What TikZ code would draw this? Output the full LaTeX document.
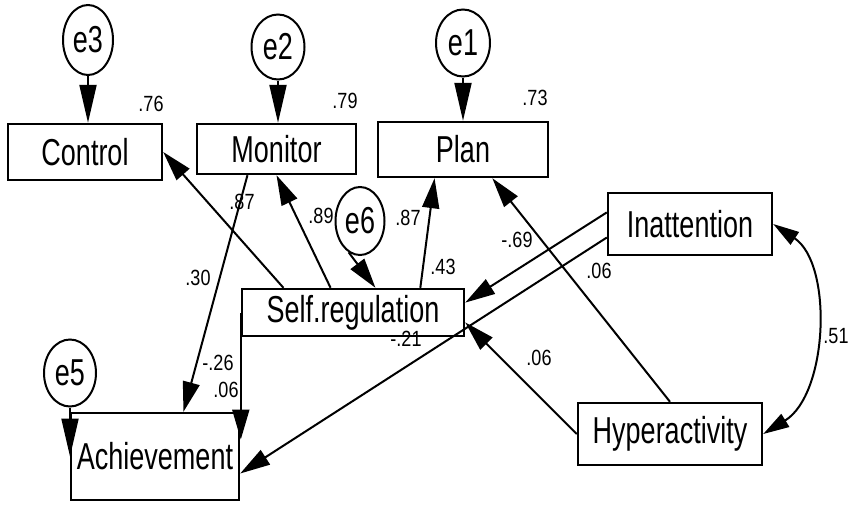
\documentclass[tikz,border=0pt]{standalone}
\usepackage{fontspec}
\usetikzlibrary{arrows.meta,shapes.geometric,calc}
\newfontfamily\boxfont[FakeStretch=0.72]{Liberation Sans}
\newfontfamily\labfont[FakeStretch=0.82]{Liberation Sans}
\begin{document}
\begin{tikzpicture}[x=1pt,y=-1pt,
  box/.style={draw, line width=2.4pt, inner sep=0pt, font=\boxfont\fontsize{37.5}{40}\selectfont},
  err/.style={ellipse, draw, line width=2pt, inner sep=0pt, font=\boxfont\fontsize{37.5}{40}\selectfont},
  lab/.style={inner sep=0pt, font=\labfont\fontsize{22}{24}\selectfont},
  conn/.style={line width=2pt, -{Triangle[length=30pt,width=17pt]}},
  errarr/.style={line width=2pt, -{Triangle[length=38pt,width=17pt]}},
  corr/.style={line width=2pt, {Triangle[length=26pt,width=15pt]}-{Triangle[length=26pt,width=15pt]}}
]
\useasboundingbox (0,0) rectangle (851,504);

% observed variables
\node[box, minimum width=154pt, minimum height=56pt] (ctrl) at (85,152) {Control};
\node[box, minimum width=159pt, minimum height=50pt] (mon) at (276.5,149) {Monitor};
\node[box, minimum width=170pt, minimum height=55pt] (plan) at (463,149.5) {Plan};
\node[box, minimum width=164pt, minimum height=62pt] (inat) at (690,224) {Inattention};
\node[box, minimum width=184pt, minimum height=62pt] (hyp) at (670,434) {Hyperactivity};
\node[box, minimum width=222pt, minimum height=47pt] (sr) at (353,312.5) {Self.regulation};
\node[box, minimum width=168pt, minimum height=87pt] (ach) at (155,456.5) {Achievement};

% error terms
\node[err, minimum width=50pt, minimum height=70pt] (e3) at (88,40) {e3};
\node[err, minimum width=53pt, minimum height=65pt] (e2) at (278,47) {e2};
\node[err, minimum width=54pt, minimum height=67pt] (e1) at (463,43) {e1};
\node[err, minimum width=49pt, minimum height=68pt] (e6) at (360,221) {e6};
\node[err, minimum width=52pt, minimum height=67pt] (e5) at (70,373) {e5};

% anchor points
\coordinate (srA) at ($(sr.north west)!0.19!(sr.north east)$);
\coordinate (srB) at ($(sr.north west)!0.40!(sr.north east)$);
\coordinate (srC) at ($(sr.north west)!0.60!(sr.north east)$);
\coordinate (srD) at ($(sr.north west)!0.80!(sr.north east)$);
\coordinate (srR1) at ($(sr.north east)!0.30!(sr.south east)$);
\coordinate (srR2) at ($(sr.north east)!0.70!(sr.south east)$);
\coordinate (planA) at ($(plan.south west)!0.335!(plan.south east)$);
\coordinate (planB) at ($(plan.south west)!0.67!(plan.south east)$);
\coordinate (monA) at ($(mon.south west)!0.32!(mon.south east)$);
\coordinate (achT) at ($(ach.north west)!0.667!(ach.north east)$);
\coordinate (achR1) at ($(ach.north east)!0.31!(ach.south east)$);
\coordinate (achR2) at ($(ach.north east)!0.69!(ach.south east)$);
\coordinate (inL1) at ($(inat.north west)!0.32!(inat.south west)$);
\coordinate (inL2) at ($(inat.north west)!0.71!(inat.south west)$);

% error arrows
\draw[errarr] (e3.south) -- (e3.south |- ctrl.north);
\draw[errarr] (e2.south) -- (e2.south |- mon.north);
\draw[errarr] (e1.south) -- (e1.south |- plan.north);
\draw[errarr] (e5.south) -- (e5.south |- ach.west);
\draw[conn] (e6.250) -- (srC);

% structural paths
\draw[conn] (srA) -- (ctrl.east);
\draw[conn] (srB) -- (mon.south);
\draw[conn] (srD) -- (planA);
\draw[conn] (monA) -- (achT);
\draw[conn] (hyp.north) -- (planB);
\draw[conn] (inL1) -- (srR1);
\draw[conn] (inL2) -- (achR2);
\draw[conn] (hyp.west) -- (srR2);
\draw[conn] (sr.west) -- (sr.west |- achR1);
\draw[corr] (inat.east) .. controls +(60,40) and +(65,-40) .. (hyp.east);

% coefficients
\node[lab] (l76) at (151,104) {.76};
\node[lab] (l79) at (345,101) {.79};
\node[lab] (l73) at (535,98) {.73};
\node[lab] (l87a) at (242,202) {.87};
\node[lab] (l89) at (321,216) {.89};
\node[lab] (l87b) at (408,218) {.87};
\node[lab] (l43) at (443,267) {.43};
\node[lab] (l69) at (517,240) {-.69};
\node[lab] (l06a) at (599,271) {.06};
\node[lab] (l06b) at (539,358) {.06};
\node[lab] (l30) at (198,278) {.30};
\node[lab] (l26) at (218,363) {-.26};
\node[lab] (l06c) at (226,390) {.06};
\node[lab] (l21) at (406,339) {-.21};
\node[lab] (l51) at (836,336) {.51};
\end{tikzpicture}
\end{document}
